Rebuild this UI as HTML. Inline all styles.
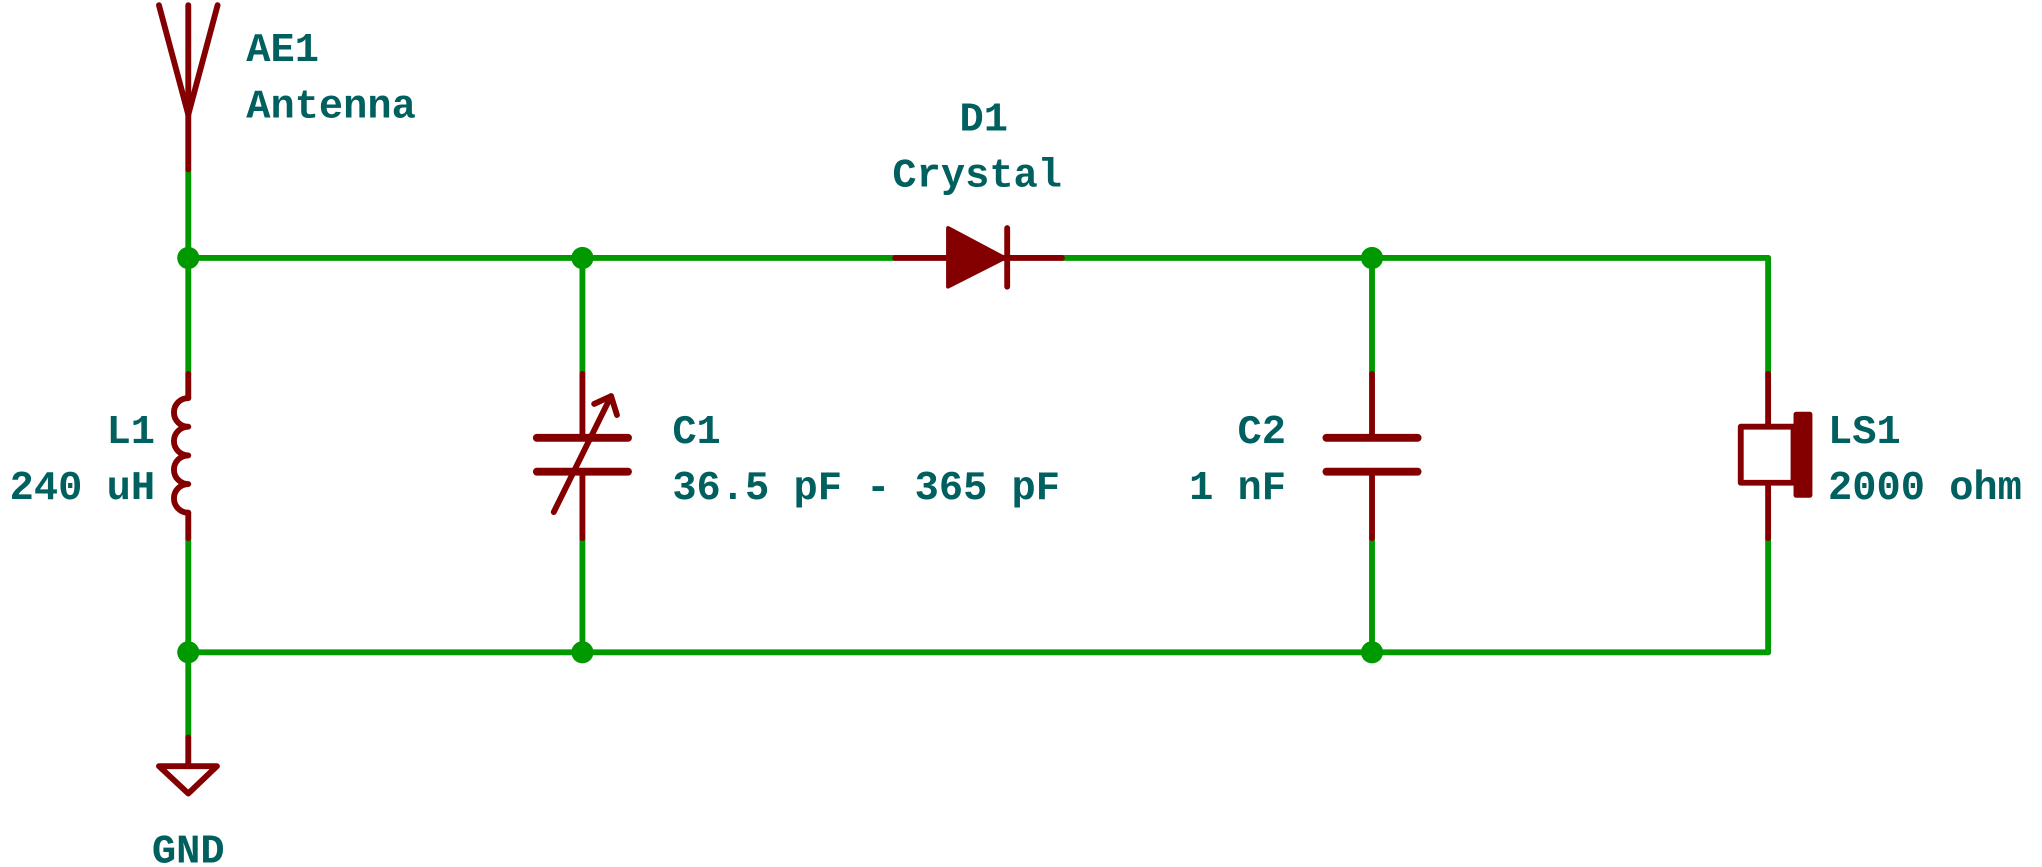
<!DOCTYPE html>
<html><head><meta charset="utf-8"><style>
html,body{margin:0;padding:0;background:#fff;}
svg{display:block;}
text{font-family:"Liberation Mono",monospace;font-weight:bold;font-size:31px;fill:#006060;}
</style></head><body>
<svg width="2042" height="867" viewBox="0 0 1567.2 665.4" preserveAspectRatio="none" xmlns="http://www.w3.org/2000/svg">
<g fill="none" stroke-linecap="round" stroke-linejoin="round">
<!-- green wires -->
<g stroke="#009900" stroke-width="4.5">
<line x1="144.5" y1="130" x2="144.5" y2="287"/>
<line x1="144.5" y1="413" x2="144.5" y2="566"/>
<line x1="144.5" y1="198" x2="687" y2="198"/>
<line x1="815" y1="198" x2="1357" y2="198"/>
<line x1="144.5" y1="500.6" x2="1357" y2="500.6"/>
<line x1="447" y1="198" x2="447" y2="287"/>
<line x1="447" y1="413" x2="447" y2="500.6"/>
<line x1="1053" y1="198" x2="1053" y2="287"/>
<line x1="1053" y1="413" x2="1053" y2="500.6"/>
<line x1="1357" y1="198" x2="1357" y2="287"/>
<line x1="1357" y1="413" x2="1357" y2="500.6"/>
</g>
<g stroke="#840000" stroke-width="4.5">
<!-- antenna -->
<line x1="144.5" y1="88" x2="144.5" y2="130"/>
<line x1="122" y1="4" x2="144.5" y2="88"/>
<line x1="144.5" y1="4" x2="144.5" y2="88"/>
<line x1="167" y1="4" x2="144.5" y2="88"/>
<!-- L1 -->
<line x1="144.5" y1="287" x2="144.5" y2="305.5"/>
<path d="M144.5,305.5 a11,11 0 0 0 0,22 a11,11 0 0 0 0,22 a11,11 0 0 0 0,22 a11,11 0 0 0 0,22"/>
<line x1="144.5" y1="393.5" x2="144.5" y2="413"/>
<!-- GND -->
<line x1="144.5" y1="566" x2="144.5" y2="588"/>
<polygon points="122,588 166.5,588 144.5,609"/>
<!-- diode -->
<line x1="687" y1="198" x2="815" y2="198"/>
<line x1="773" y1="175" x2="773" y2="220"/>
<!-- C1 -->
<line x1="447" y1="287" x2="447" y2="336"/>
<line x1="447" y1="362" x2="447" y2="413"/>
<line x1="412" y1="336" x2="482" y2="336" stroke-width="6"/>
<line x1="412" y1="362" x2="482" y2="362" stroke-width="6"/>
<line x1="425" y1="393" x2="469" y2="304"/>
<polyline points="456,310 469,304 473.5,318.5"/>
<!-- C2 -->
<line x1="1053" y1="287" x2="1053" y2="336"/>
<line x1="1053" y1="362" x2="1053" y2="413"/>
<line x1="1018" y1="336" x2="1088" y2="336" stroke-width="6"/>
<line x1="1018" y1="362" x2="1088" y2="362" stroke-width="6"/>
<!-- LS1 -->
<line x1="1357" y1="287" x2="1357" y2="327.5"/>
<line x1="1357" y1="370.5" x2="1357" y2="413"/>
<rect x="1336" y="327.5" width="40.5" height="43"/>
</g>
</g>
<polygon points="727.6,175 727.6,220 771,198" fill="#840000" stroke="#840000" stroke-width="3" stroke-linejoin="round"/>
<rect x="1376.5" y="316" width="14.5" height="66" rx="2" fill="#840000"/>
<g fill="#009900">
<circle cx="144.5" cy="198" r="8.5"/><circle cx="447" cy="198" r="8.5"/><circle cx="1053" cy="198" r="8.5"/>
<circle cx="144.5" cy="500.6" r="8.5"/><circle cx="447" cy="500.6" r="8.5"/><circle cx="1053" cy="500.6" r="8.5"/>
</g>
<text x="189" y="47">AE1</text>
<text x="189" y="90">Antenna</text>
<text x="755" y="100" text-anchor="middle">D1</text>
<text x="750" y="143" text-anchor="middle">Crystal</text>
<text x="119" y="340" text-anchor="end">L1</text>
<text x="119" y="383" text-anchor="end">240 uH</text>
<text x="516" y="340">C1</text>
<text x="516" y="383">36.5 pF - 365 pF</text>
<text x="987" y="340" text-anchor="end">C2</text>
<text x="987" y="383" text-anchor="end">1 nF</text>
<text x="1403" y="340">LS1</text>
<text x="1403" y="383">2000 ohm</text>
<text x="144.5" y="662" text-anchor="middle">GND</text>
</svg>
</body></html>
